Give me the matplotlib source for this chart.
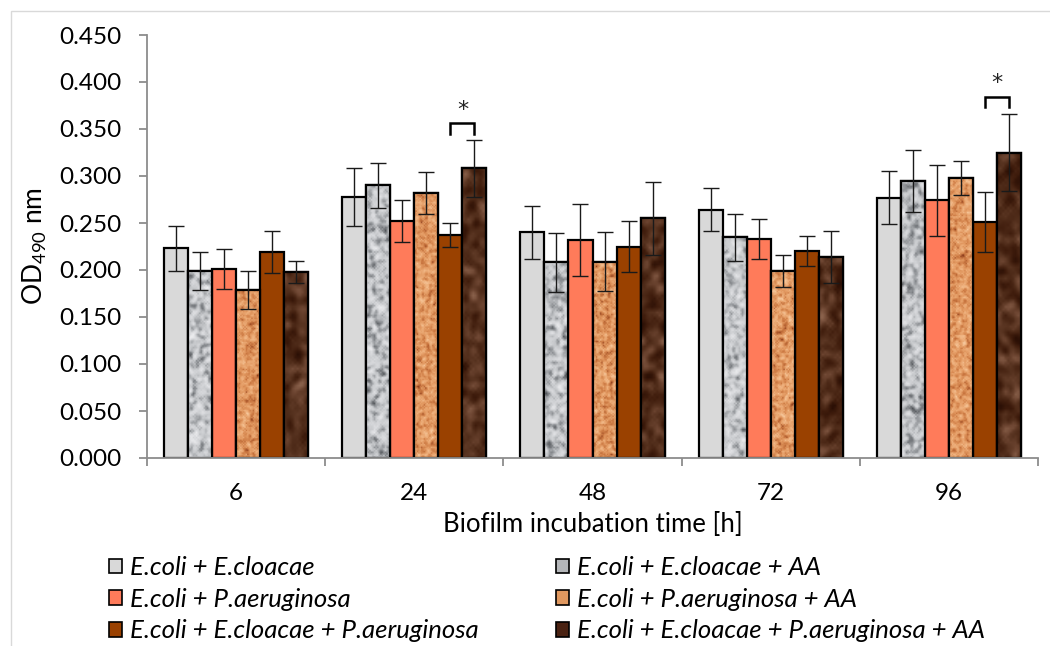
import numpy as np
import matplotlib
matplotlib.use("Agg")
import matplotlib.pyplot as plt
from matplotlib.colors import LinearSegmentedColormap
from matplotlib.patches import Patch, Rectangle

plt.rcParams['font.family'] = ['Lato', 'DejaVu Sans']
plt.rcParams['mathtext.fontset'] = 'custom'
plt.rcParams['mathtext.rm'] = 'Lato'

times = ['6', '24', '48', '72', '96']
labels = [
    'E.coli + E.cloacae',
    'E.coli + E.cloacae + AA',
    'E.coli + P.aeruginosa',
    'E.coli + P.aeruginosa + AA',
    'E.coli + E.cloacae + P.aeruginosa',
    'E.coli + E.cloacae + P.aeruginosa + AA',
]

# mean OD490 per series, one value per time point
ec_ecl = [0.223, 0.278, 0.240, 0.264, 0.277]
ec_ecl_aa = [0.199, 0.290, 0.208, 0.235, 0.295]
ec_pa = [0.201, 0.252, 0.232, 0.233, 0.274]
ec_pa_aa = [0.179, 0.282, 0.209, 0.199, 0.298]
ec_ecl_pa = [0.219, 0.237, 0.225, 0.220, 0.251]
ec_ecl_pa_aa = [0.198, 0.308, 0.255, 0.214, 0.325]

# standard deviations
sd_ec_ecl = [0.024, 0.031, 0.028, 0.023, 0.028]
sd_ec_ecl_aa = [0.020, 0.024, 0.031, 0.025, 0.033]
sd_ec_pa = [0.021, 0.022, 0.038, 0.021, 0.038]
sd_ec_pa_aa = [0.020, 0.022, 0.031, 0.017, 0.018]
sd_ec_ecl_pa = [0.022, 0.013, 0.027, 0.016, 0.032]
sd_ec_ecl_pa_aa = [0.012, 0.030, 0.039, 0.028, 0.041]

# significant pairs: (time index, series a, series b)
sig_pairs = [(1, 4, 5), (4, 4, 5)]

means = [ec_ecl, ec_ecl_aa, ec_pa, ec_pa_aa, ec_ecl_pa, ec_ecl_pa_aa]
sds = [sd_ec_ecl, sd_ec_ecl_aa, sd_ec_pa, sd_ec_pa_aa, sd_ec_ecl_pa, sd_ec_ecl_pa_aa]


def make_texture(h, w, seed, smooth=2):
    # deterministic hash noise, blurred a bit to look like a stone/cork fill
    yy, xx = np.mgrid[0:h, 0:w].astype(float)
    n = np.sin(xx * 12.9898 + yy * 78.233 + seed * 37.719) * 43758.5453
    n = n - np.floor(n)
    for _ in range(smooth):
        n = (n + np.roll(n, 1, 0) + np.roll(n, -1, 0)
             + np.roll(n, 1, 1) + np.roll(n, -1, 1)) / 5.0
    n = (n - n.min()) / (n.max() - n.min())
    return n


grey_cm = LinearSegmentedColormap.from_list(
    'granite', ['#4c4f53', '#8a8d91', '#c6c8cb', '#dcdde0', '#f0f0f2'])
tan_cm = LinearSegmentedColormap.from_list(
    'cork', ['#8a3a1a', '#c8743e', '#e39a62', '#efb27f', '#f7cda4'])
brown_cm = LinearSegmentedColormap.from_list(
    'wood', ['#2a0f05', '#3f1c0c', '#54301d', '#6e4632', '#8a624c'])

styles = [
    dict(color='#d9d9d9', tex=None),
    dict(color='#b4b6b9', tex=(grey_cm, 2, 260, 16)),
    dict(color='#ff7b5a', tex=None),
    dict(color='#e0985f', tex=(tan_cm, 1, 300, 18)),
    dict(color='#9a4100', tex=None),
    dict(color='#4a2212', tex=(brown_cm, 3, 150, 10)),
]

fig = plt.figure(figsize=(10.5, 6.46), dpi=100)
fig.patches.append(Rectangle((11 / 1050, -0.2), 1.2, 1.2 - 11 / 646,
                             transform=fig.transFigure, fill=False,
                             edgecolor='#d9d9d9', linewidth=1.0))
ax = fig.add_axes([147 / 1050, 1 - 458 / 646, (1038 - 147) / 1050, (458 - 35) / 646])

x = np.arange(len(times))
bw = 0.135
ymax = 0.45
handles = []
for i, (m, s, st) in enumerate(zip(means, sds, styles)):
    pos = x + (i - 2.5) * bw
    bars = ax.bar(pos, m, width=bw, color=st['color'], edgecolor='black',
                  linewidth=1.6, zorder=2)
    if st['tex'] is not None:
        cm, sm, th, tw = st['tex']
        for j, b in enumerate(bars):
            tex = make_texture(th, tw, seed=i * 10 + j + 1, smooth=sm)
            im = ax.imshow(tex, cmap=cm, aspect='auto', interpolation='bilinear',
                           extent=(b.get_x(), b.get_x() + b.get_width(), 0, ymax),
                           origin='lower', zorder=2.1)
            im.set_clip_path(b)
            edge = Rectangle((b.get_x(), 0), b.get_width(), b.get_height(),
                             fill=False, edgecolor='black', linewidth=1.6, zorder=2.2)
            ax.add_patch(edge)
    ax.errorbar(pos, m, yerr=s, fmt='none', ecolor='#1a1a1a', elinewidth=1.0,
                capsize=5.5, capthick=1.0, zorder=3)
    handles.append(Patch(facecolor=st['color'], edgecolor='black', linewidth=1.2))

# significance brackets
for t, a, b in sig_pairs:
    xa = x[t] + (a - 2.5) * bw
    xb = x[t] + (b - 2.5) * bw
    top = max(means[a][t] + sds[a][t], means[b][t] + sds[b][t])
    y0 = top + 0.007
    y1 = top + 0.018
    ax.plot([xa, xa, xb, xb], [y0, y1, y1, y0], color='black', linewidth=1.8,
            solid_joinstyle='miter', zorder=3)
    ax.text((xa + xb) / 2, y1 + 0.004, '*', ha='center', va='bottom',
            fontsize=16, family='DejaVu Sans', color='#222222')

ax.set_xlim(-0.5, len(times) - 0.5)
ax.set_ylim(0, ymax)
ax.set_yticks(np.arange(0, 0.451, 0.05))
ax.set_yticklabels(['%.3f' % v for v in np.arange(0, 0.451, 0.05)])
ax.set_xticks(np.arange(-0.5, len(times), 1.0))
ax.set_xticklabels([])
ax.set_xticks(x, minor=True)
ax.set_xticklabels(times, minor=True)

for sp in ['top', 'right']:
    ax.spines[sp].set_visible(False)
for sp in ['left', 'bottom']:
    ax.spines[sp].set_color('#8c8c8c')
    ax.spines[sp].set_linewidth(1.3)

ax.tick_params(axis='y', direction='out', length=6, width=1.3, color='#8c8c8c',
               labelsize=17.5, pad=12, labelcolor='black')
ax.tick_params(axis='x', which='major', direction='out', length=6, width=1.3,
               color='#8c8c8c')
ax.tick_params(axis='x', which='minor', length=0, labelsize=17.5, pad=18)

ax.set_xlabel('Biofilm incubation time [h]', fontsize=18.5, labelpad=6)
ax.set_ylabel('OD$_{490}$ nm', fontsize=19)
ax.yaxis.set_label_coords(-0.11, 0.5)

leg_kw = dict(frameon=False, prop=dict(family='Lato', style='italic', size=18.5),
              handlelength=0.5, handleheight=0.5, handletextpad=0.3,
              labelspacing=0.34, borderaxespad=0, borderpad=0)
order1 = [0, 2, 4]
order2 = [1, 3, 5]
fig.legend([handles[k] for k in order1], [labels[k] for k in order1],
           loc='upper left', bbox_to_anchor=(109 / 1050, 1 - 556 / 646), **leg_kw)
fig.legend([handles[k] for k in order2], [labels[k] for k in order2],
           loc='upper left', bbox_to_anchor=(556 / 1050, 1 - 556 / 646), **leg_kw)

fig.savefig('out.png', dpi=100)
